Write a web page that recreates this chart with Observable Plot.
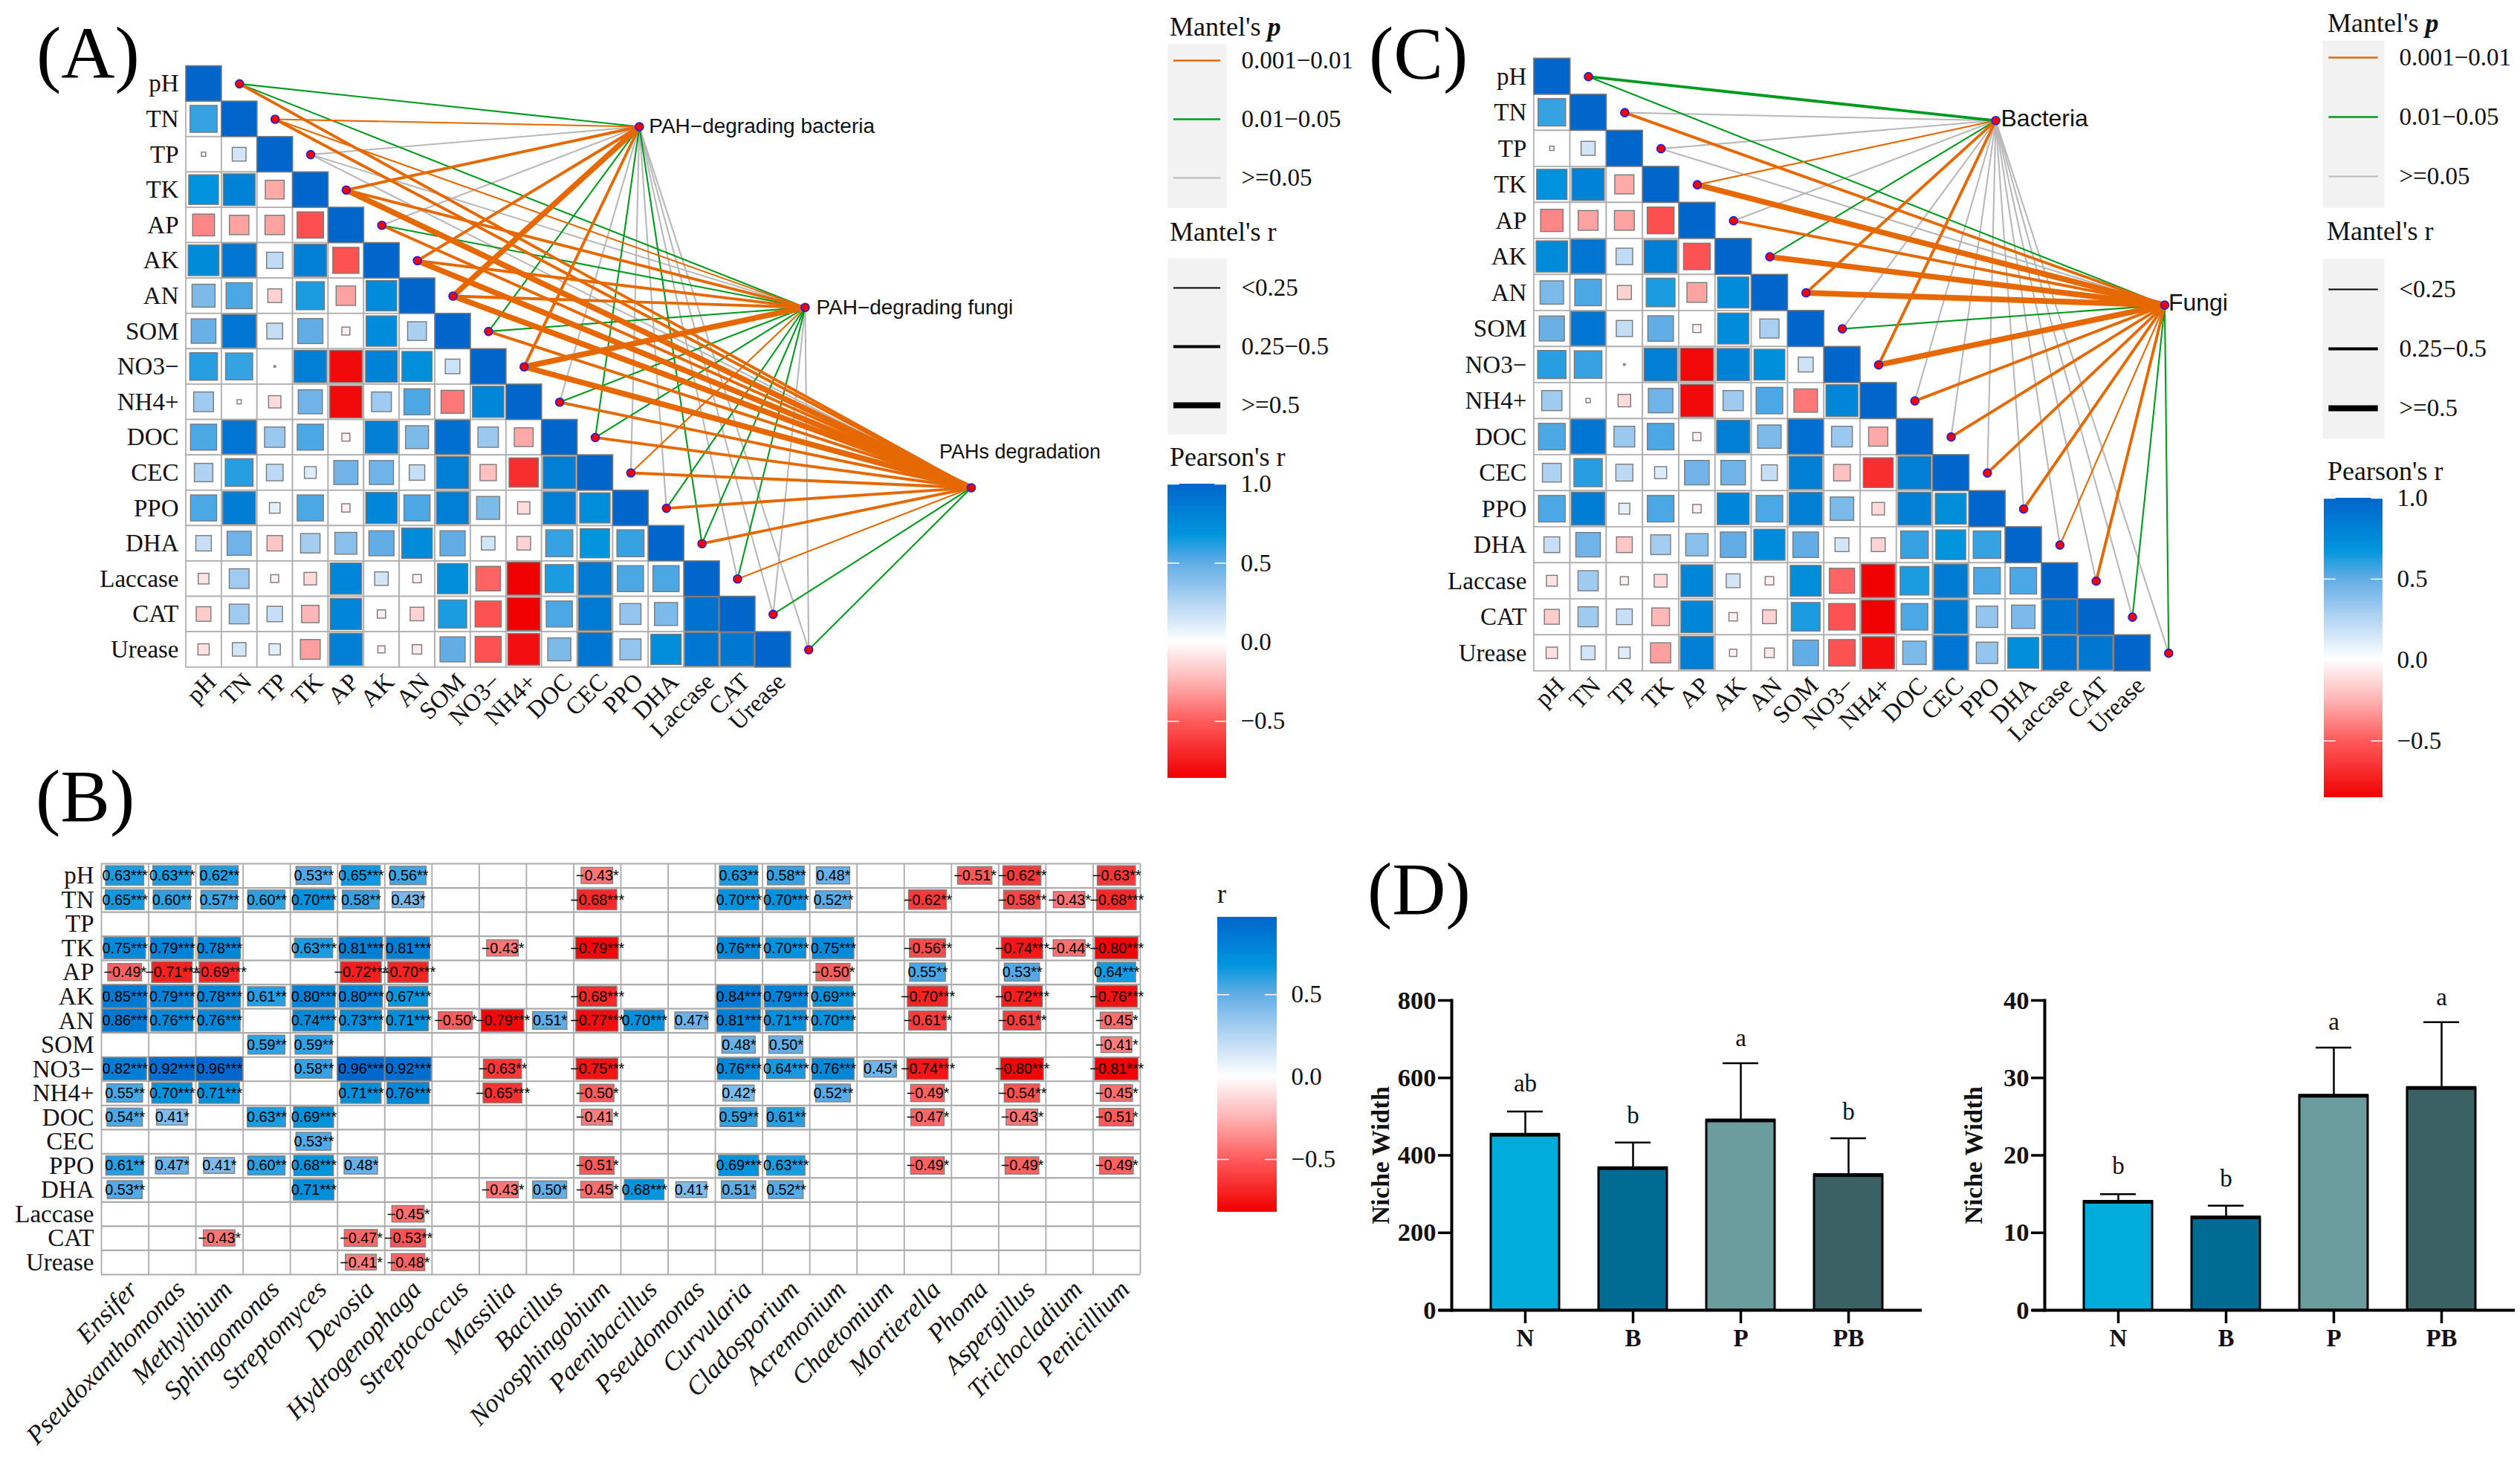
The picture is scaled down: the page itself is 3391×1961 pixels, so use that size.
<!DOCTYPE html>
<html>
<head>
<meta charset="utf-8">
<script src="https://cdn.jsdelivr.net/npm/d3@7"></script>
<script src="https://cdn.jsdelivr.net/npm/@observablehq/plot@0.6"></script>
<style>
html,body{margin:0;padding:0;background:#fff;}
#page{position:relative;width:3391px;height:1961px;overflow:hidden;background:#fff;}
.tag{position:absolute;font-family:"Liberation Serif",serif;font-size:100px;line-height:100px;color:#000;white-space:nowrap;}
.ttl{position:absolute;font-family:"Liberation Serif",serif;font-size:36px;line-height:40px;color:#111;white-space:nowrap;}
</style>
</head>
<body>
<div id="page"></div>
<script>
// ---------- data: environmental factors ----------
const envNames = ["pH","TN","TP","TK","AP","AK","AN","SOM","NO3\u2212","NH4+","DOC","CEC","PPO","DHA","Laccase","CAT","Urease"];
const rTN  = [.58];
const rTP  = [.014,.15];
const rTK  = [.7,.8,-.28];
const rAP  = [-.38,-.3,-.3,-.55];
const rAK  = [.75,.89,.21,.83,-.54];
const rAN  = [.42,.54,-.15,.63,-.3,.74];
const rSOM = [.48,.89,.2,.5,-.05,.74,.28];
const rNO3 = [.61,.58,.002,.83,-.83,.8,.72,.17];
const rNH4 = [.31,.014,-.12,.46,-.82,.31,.54,-.42,.78];
const rDOC = [.54,.9,.33,.54,-.05,.83,.42,.94,.33,-.28];
const rCEC = [.27,.61,.22,.11,.46,.46,.19,.83,-.21,-.68,.83];
const rPPO = [.54,.84,.09,.54,-.055,.78,.54,.83,.42,-.12,.83,.73];
const rDHA = [.19,.46,-.19,.3,.38,.5,.74,.5,.146,-.146,.58,.68,.58];
const rLAC = [-.09,.31,-.05,-.125,.78,.146,-.055,.73,-.48,-.86,.63,.86,.54,.54];
const rCAT = [-.17,.31,.19,-.24,.78,-.055,-.146,.63,-.54,-.86,.54,.86,.35,.42,.92];
const rURE = [-.1,.146,.1,-.31,.83,-.04,-.07,.5,-.54,-.8,.42,.9,.35,.73,.9,.88];
const envLower = [[],rTN,rTP,rTK,rAP,rAK,rAN,rSOM,rNO3,rNH4,rDOC,rCEC,rPPO,rDHA,rLAC,rCAT,rURE];

// Mantel classes. p: 0 = 0.001-0.01, 1 = 0.01-0.05, 2 = >=0.05. r: 0 = <0.25, 1 = 0.25-0.5, 2 = >=0.5
const pLabels = ["0.001\u22120.01","0.01\u22120.05",">=0.05"];
const mrLabels = ["<0.25","0.25\u22120.5",">=0.5"];
const aBactP = [1,0,2,0,2,0,0,1,0,2,1,2,2,1,2,2,2];
const aBactR = [0,0,0,1,0,1,2,0,1,0,0,0,0,0,0,0,0];
const aFungP = [1,0,2,0,1,0,0,1,0,1,1,0,1,1,1,2,2];
const aFungR = [0,0,0,1,0,1,1,0,2,0,0,0,0,0,0,0,0];
const aDegP  = [0,0,2,0,0,0,0,0,0,0,0,0,0,0,0,1,1];
const aDegR  = [1,1,0,2,1,2,2,1,2,1,1,1,1,1,0,0,0];
const cBactP = [1,2,2,0,2,1,0,2,0,2,2,2,2,2,2,2,2];
const cBactR = [1,0,0,0,0,0,1,0,1,0,0,0,0,0,0,0,0];
const cFungP = [1,0,2,0,0,0,0,1,0,0,0,0,0,0,0,1,1];
const cFungR = [0,1,0,2,1,2,2,0,2,1,1,1,1,0,1,0,0];

// ---------- data: genus correlation table: [genus index, r, stars] ----------
const genera = ["Ensifer","Pseudoxanthomonas","Methylibium","Sphingomonas","Streptomyces","Devosia","Hydrogenophaga","Streptococcus","Massilia","Bacillus","Novosphingobium","Paenibacillus","Pseudomonas","Curvularia","Cladosporium","Acremonium","Chaetomium","Mortierella","Phoma","Aspergillus","Trichocladium","Penicillium"];
const gPH=[[0,.63,3],[1,.63,3],[2,.62,2],[4,.53,2],[5,.65,3],[6,.56,2],[10,-.43,1],[13,.63,2],[14,.58,2],[15,.48,1],[18,-.51,1],[19,-.62,2],[21,-.63,2]];
const gTN=[[0,.65,3],[1,.60,2],[2,.57,2],[3,.60,2],[4,.70,3],[5,.58,2],[6,.43,1],[10,-.68,3],[13,.70,3],[14,.70,3],[15,.52,2],[17,-.62,2],[19,-.58,2],[20,-.43,1],[21,-.68,3]];
const gTP=[];
const gTK=[[0,.75,3],[1,.79,3],[2,.78,3],[4,.63,3],[5,.81,3],[6,.81,3],[8,-.43,1],[10,-.79,3],[13,.76,3],[14,.70,3],[15,.75,3],[17,-.56,2],[19,-.74,3],[20,-.44,1],[21,-.80,3]];
const gAP=[[0,-.49,1],[1,-.71,3],[2,-.69,3],[5,-.72,3],[6,-.70,3],[15,-.50,1],[17,.55,2],[19,.53,2],[21,.64,3]];
const gAK=[[0,.85,3],[1,.79,3],[2,.78,3],[3,.61,2],[4,.80,3],[5,.80,3],[6,.67,3],[10,-.68,3],[13,.84,3],[14,.79,3],[15,.69,3],[17,-.70,3],[19,-.72,3],[21,-.76,3]];
const gAN=[[0,.86,3],[1,.76,3],[2,.76,3],[4,.74,3],[5,.73,3],[6,.71,3],[7,-.50,1],[8,-.79,3],[9,.51,1],[10,-.77,3],[11,.70,3],[12,.47,1],[13,.81,3],[14,.71,3],[15,.70,3],[17,-.61,2],[19,-.61,2],[21,-.45,1]];
const gSOM=[[3,.59,2],[4,.59,2],[13,.48,1],[14,.50,1],[21,-.41,1]];
const gNO3=[[0,.82,3],[1,.92,3],[2,.96,3],[4,.58,2],[5,.96,3],[6,.92,3],[8,-.63,2],[10,-.75,3],[13,.76,3],[14,.64,3],[15,.76,3],[16,.45,1],[17,-.74,3],[19,-.80,3],[21,-.81,3]];
const gNH4=[[0,.55,2],[1,.70,3],[2,.71,3],[5,.71,3],[6,.76,3],[8,-.65,3],[10,-.50,1],[13,.42,1],[15,.52,2],[17,-.49,1],[19,-.54,2],[21,-.45,1]];
const gDOC=[[0,.54,2],[1,.41,1],[3,.63,2],[4,.69,3],[10,-.41,1],[13,.59,2],[14,.61,2],[17,-.47,1],[19,-.43,1],[21,-.51,1]];
const gCEC=[[4,.53,2]];
const gPPO=[[0,.61,2],[1,.47,1],[2,.41,1],[3,.60,2],[4,.68,3],[5,.48,1],[10,-.51,1],[13,.69,3],[14,.63,3],[17,-.49,1],[19,-.49,1],[21,-.49,1]];
const gDHA=[[0,.53,2],[4,.71,3],[8,-.43,1],[9,.50,1],[10,-.45,1],[11,.68,3],[12,.41,1],[13,.51,1],[14,.52,2]];
const gLAC=[[6,-.45,1]];
const gCAT=[[2,-.43,1],[5,-.47,1],[6,-.53,2]];
const gURE=[[5,-.41,1],[6,-.48,1]];
const genusRows=[gPH,gTN,gTP,gTK,gAP,gAK,gAN,gSOM,gNO3,gNH4,gDOC,gCEC,gPPO,gDHA,gLAC,gCAT,gURE];

// ---------- data: niche width ----------
const groups=["N","B","P","PB"];
const nicheBact=[453,367,490,349];
const nicheBactTop=[513,433,638,444];
const nicheBactLetters=["ab","b","a","b"];
const nicheBactLetterAt=[585,503,703,512];
const nicheFung=[14,12,27.7,28.7];
const nicheFungTop=[15,13.5,33.9,37.2];
const nicheFungLetters=["b","b","a","a"];
const nicheFungLetterAt=[18.6,17,37.2,40.4];

// ---------- styles ----------
const SERIF='"Liberation Serif",serif', SANS='"Liberation Sans",sans-serif';
const pColors=["#e66800","#009a1e","#b8b8b8"];
const rWidths=[2.1,3.9,7.6];
const rampColors=["#f00000","#ff5c5c","#ffb4b4","#ffffff","#b4d5f3","#62ade6","#0095dd","#0066cc"];
const envRamp={type:"linear",clamp:true,domain:[-.86,-.5,-.25,0,.25,.5,.68,1],range:rampColors};
const genusRamp={type:"linear",clamp:true,domain:[-.82,-.5,-.25,0,.25,.5,.68,.97],range:rampColors};
const transparent={background:"transparent",overflow:"visible",maxWidth:"none",fontFamily:SERIF};

const page=document.getElementById("page");
function place(node,left,top){node.style.position="absolute";node.style.left=left+"px";node.style.top=top+"px";page.append(node);}
function tag(t,left,top){const d=document.createElement("div");d.className="tag";d.textContent=t;d.style.left=left+"px";d.style.top=top+"px";page.append(d);}
function ttl(html,left,cy){const d=document.createElement("div");d.className="ttl";d.innerHTML=html;d.style.left=left+"px";d.style.top=(cy-20)+"px";page.append(d);}

function corrNetwork(o){
  const cells=[],squares=[];
  envNames.forEach((_,i)=>{
    for(let j=0;j<=i;j++){
      const r=i===j?1:envLower[i][j];
      cells.push({i,j});
      squares.push({i,j,r,s:i===j?1:Math.sqrt(Math.abs(r))});
    }
  });
  const links=[];
  o.hubs.forEach(h=>envNames.forEach((_,i)=>links.push({i,hx:h.x,hy:h.y,p:h.p[i],w:rWidths[h.r[i]]})));
  const nodes=envNames.map((_,i)=>({x:i+1.5,y:i+.5}));
  const ticks=envNames.map((_,i)=>i+.5);
  const lm=o.frameLeft-o.svgLeft;
  const bottom=190;
  return Plot.plot({
    width:lm+o.cell*o.nx, height:o.frameTop+o.cellH*17+bottom,
    marginLeft:lm,marginRight:0,marginTop:o.frameTop,marginBottom:bottom,
    style:transparent,
    x:{domain:[0,o.nx],axis:null},
    y:{domain:[17,0],axis:null},
    color:envRamp,
    marks:[
      Plot.rect(cells,{x1:d=>d.j,x2:d=>d.j+1,y1:d=>d.i,y2:d=>d.i+1,fill:"#fff",stroke:"#b0b0b0",strokeWidth:1.8}),
      Plot.rect(squares,{x1:d=>d.j+.5-d.s/2,x2:d=>d.j+.5+d.s/2,y1:d=>d.i+.5-d.s/2,y2:d=>d.i+.5+d.s/2,fill:"r",stroke:"#7a7a7a",strokeWidth:1.4}),
      ...[2,1,0].map(k=>Plot.link(links.filter(d=>d.p===k),{x1:d=>d.i+1.5,y1:d=>d.i+.5,x2:"hx",y2:"hy",stroke:pColors[k],strokeWidth:d=>d.w})),
      Plot.dot(nodes,{x:"x",y:"y",r:5.5,fill:"#f00000",stroke:"#2020e0",strokeWidth:1.6}),
      Plot.dot(o.hubs,{x:"x",y:"y",r:5.5,fill:"#f00000",stroke:"#2020e0",strokeWidth:1.6}),
      ...o.hubs.map(h=>Plot.text([h],{x:"x",y:"y",text:"name",dx:h.dx,dy:h.dy,textAnchor:"start",fontFamily:SANS,fontSize:h.size,fill:"#111"})),
      Plot.axisY({ticks,tickFormat:d=>envNames[d-.5],anchor:"left",tickSize:0,tickPadding:10,label:null,fontSize:33,fontFamily:SERIF,fill:"#111"}),
      Plot.axisX({ticks,tickFormat:d=>envNames[d-.5],anchor:"bottom",tickSize:0,tickPadding:4,tickRotate:-45,label:null,fontSize:33,fontFamily:SERIF,fill:"#111",dx:11,dy:10})
    ]
  });
}

function lineLegend(labels,strokes,widths,w,h,pad,align){
  return Plot.plot({
    width:w+240,height:h,marginLeft:0,marginRight:240,marginTop:0,marginBottom:0,style:transparent,
    x:{domain:[0,1],axis:null},
    y:{type:"point",domain:labels,padding:pad,align,axis:null},
    marks:[
      Plot.frame({fill:"#f2f2f2",stroke:"none"}),
      ...labels.map((l,i)=>Plot.ruleY([l],{x1:.1,x2:.9,stroke:strokes[i],strokeWidth:widths[i]})),
      Plot.text(labels,{y:d=>d,x:1,dx:20,textAnchor:"start",text:d=>d,fontSize:33,fontFamily:SERIF,fill:"#111"})
    ]
  });
}

function colorBar(ramp,lo,hi,ticks,w,h){
  const strips=d3.range(lo,hi,.004);
  return Plot.plot({
    width:w+110,height:h,marginLeft:0,marginRight:110,marginTop:0,marginBottom:0,style:transparent,
    x:{domain:[0,1],axis:null},
    y:{domain:[lo,hi],axis:null},
    color:ramp,
    marks:[
      Plot.rect(strips,{x1:0,x2:1,y1:d=>d,y2:d=>Math.min(hi,d+.016),fill:d=>d}),
      Plot.ruleY(ticks,{x1:0,x2:.2,stroke:"#fff",strokeWidth:1.5}),
      Plot.ruleY(ticks,{x1:.8,x2:1,stroke:"#fff",strokeWidth:1.5}),
      Plot.axisY({ticks,anchor:"right",tickSize:0,tickPadding:19,tickFormat:d3.format(".1f"),label:null,fontSize:33,fontFamily:SERIF,fill:"#111"})
    ]
  });
}

function genusTable(){
  const cells=[];
  genusRows.forEach((row,i)=>row.forEach(([c,r,s])=>cells.push({i,c,r,side:Math.sqrt(Math.abs(r))*1.02,
    label:(r<0?"\u2212":"")+Math.abs(r).toFixed(2)+"*".repeat(s)})));
  const yt=envNames.map((_,i)=>i+.5), xt=genera.map((_,i)=>i+.5);
  return Plot.plot({
    width:1620,height:831,marginLeft:136,marginRight:86,marginTop:32,marginBottom:246,style:transparent,
    x:{domain:[0,22],axis:null},y:{domain:[17,0],axis:null},color:genusRamp,
    marks:[
      Plot.ruleX(d3.range(23),{stroke:"#ababab",strokeWidth:1.8}),
      Plot.ruleY(d3.range(18),{stroke:"#ababab",strokeWidth:2.2}),
      Plot.rect(cells,{x1:d=>d.c+.5-d.side/2,x2:d=>d.c+.5+d.side/2,y1:d=>d.i+.5-d.side/2,y2:d=>d.i+.5+d.side/2,fill:"r",stroke:"#808080",strokeWidth:1.4}),
      Plot.text(cells,{x:d=>d.c+.5,y:d=>d.i+.5,text:"label",fontSize:19.8,fontFamily:SANS,fill:"#000"}),
      Plot.axisY({ticks:yt,tickFormat:d=>envNames[d-.5],anchor:"left",tickSize:0,tickPadding:10,label:null,fontSize:33,fontFamily:SERIF,fill:"#111"}),
      Plot.axisX({ticks:xt,tickFormat:d=>genera[d-.5],anchor:"bottom",tickSize:0,tickPadding:4,tickRotate:-46,label:null,fontSize:35,fontFamily:SERIF,fontStyle:"italic",fill:"#111",dx:11,dy:10})
    ]
  });
}

function nicheChart(values,tops,letters,letterAt,yMax,yTicks){
  const data=groups.map((g,i)=>({g,v:values[i],top:tops[i],letter:letters[i],at:letterAt[i]}));
  return Plot.plot({
    width:746,height:563,marginLeft:113,marginRight:0,marginTop:46,marginBottom:100,style:transparent,
    x:{domain:groups,padding:.365,axis:null},
    y:{domain:[0,yMax],axis:null},
    color:{domain:groups,range:["#00acd9","#006b93","#6b9d9f","#3a6164"]},
    marks:[
      Plot.ruleX(data,{x:"g",y1:"v",y2:"top",stroke:"#000",strokeWidth:2.5}),
      Plot.tickY(data,{x:"g",y:"top",stroke:"#000",strokeWidth:2.5,insetLeft:22,insetRight:22}),
      Plot.barY(data,{x:"g",y:"v",fill:"g",stroke:"#000",strokeWidth:3}),
      Plot.tickY(data,{x:"g",y:"v",stroke:"#000",strokeWidth:5,insetLeft:-1,insetRight:-1}),
      Plot.text(data,{x:"g",y:"at",text:"letter",fontSize:33,fontFamily:SERIF,fill:"#111"}),
      Plot.frame({anchor:"left",stroke:"#000",strokeWidth:4}),
      Plot.ruleY([0],{stroke:"#000",strokeWidth:4,insetLeft:-17}),
      Plot.axisY({ticks:yTicks,anchor:"left",tickSize:18,strokeWidth:3.5,stroke:"#000",tickPadding:3,label:"Niche Width",labelAnchor:"center",labelArrow:"none",labelOffset:109,fontSize:34.5,fontWeight:"bold",fontFamily:SERIF,fill:"#111"}),
      Plot.axisX({anchor:"bottom",tickSize:18,strokeWidth:3.5,stroke:"#000",tickPadding:7,label:null,fontSize:33,fontWeight:"bold",fontFamily:SERIF,fill:"#111"})
    ]
  });
}

// ---------- panel A ----------
tag("(A)",49,22);
place(corrNetwork({svgLeft:60,frameLeft:250,frameTop:88.6,cell:47.87,cellH:47.6,nx:27,hubs:[
  {name:"PAH\u2212degrading bacteria",x:12.74,y:1.71,p:aBactP,r:aBactR,dx:13,dy:0,size:28},
  {name:"PAH\u2212degrading fungi",x:17.4,y:6.82,p:aFungP,r:aFungR,dx:15,dy:0,size:28},
  {name:"PAHs degradation",x:22.07,y:11.92,p:aDegP,r:aDegR,dx:-43,dy:-48,size:27}
]}),60,0);
ttl("Mantel's <b><i>p</i></b>",1574,36);
place(lineLegend(pLabels,pColors,[2.5,2.5,2],79,220.5,.39,.35),1571,58.5);
ttl("Mantel's r",1574,312);
place(lineLegend(mrLabels,["#000","#000","#000"],[2,4,8],79,237,.5,.5),1571,347);
ttl("Pearson's r",1574,615);
place(colorBar(envRamp,-.86,1,[1,.5,0,-.5],79,396),1571,651);

// ---------- panel C ----------
tag("(C)",1842,22);
place(corrNetwork({svgLeft:1880,frameLeft:2063.8,frameTop:78.4,cell:48.8,cellH:48.5,nx:21,hubs:[
  {name:"Bacteria",x:12.73,y:1.72,p:cBactP,r:cBactR,dx:7,dy:-3,size:32},
  {name:"Fungi",x:17.39,y:6.84,p:cFungP,r:cFungR,dx:5,dy:-3,size:32}
]}),1880,0);
ttl("Mantel's <b><i>p</i></b>",3132,31);
place(lineLegend(pLabels,pColors,[2.5,2.5,2],83,225,.39,.35),3124.5,54);
ttl("Mantel's r",3131,311);
place(lineLegend(mrLabels,["#000","#000","#000"],[2,4,8],83,242,.5,.5),3124.5,348);
ttl("Pearson's r",3132,634);
place(colorBar(envRamp,-.85,1,[1,.5,0,-.5],79,403),3127,670);

// ---------- panel B ----------
tag("(B)",48,1022);
place(genusTable(),0,1130);
ttl("r",1638,1203);
place(colorBar(genusRamp,-.82,.97,[.5,0,-.5],80,397),1638,1234);

// ---------- panel D ----------
tag("(D)",1840,1147);
place(nicheChart(nicheBact,nicheBactTop,nicheBactLetters,nicheBactLetterAt,800,[0,200,400,600,800]),1840,1300);
place(nicheChart(nicheFung,nicheFungTop,nicheFungLetters,nicheFungLetterAt,40,[0,10,20,30,40]),2638,1300);
</script>
</body>
</html>
